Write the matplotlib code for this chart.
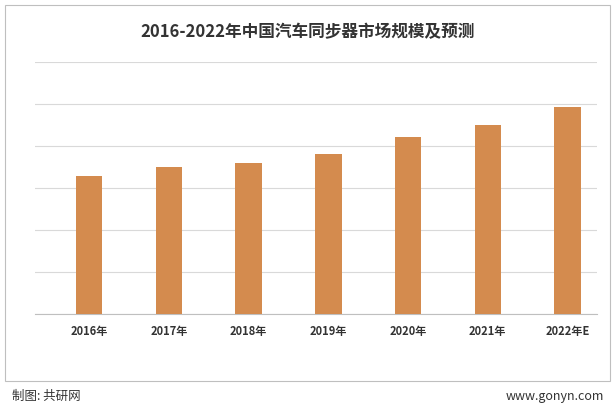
import matplotlib
matplotlib.use("Agg")
import matplotlib.pyplot as plt
from matplotlib.patches import Rectangle

plt.rcParams["font.family"] = "Noto Sans CJK SC"

years = ["2016年", "2017年", "2018年", "2019年", "2020年", "2021年", "2022年E"]
values = [3.29, 3.50, 3.60, 3.81, 4.21, 4.50, 4.93]

W, H = 616, 411
fig = plt.figure(figsize=(W / 100, H / 100), dpi=100)
ax = fig.add_axes([35 / W, 1 - 314 / H, (597 - 35) / W, (314 - 62) / H])

ax.bar(range(len(years)), values, width=0.33, color="#D48B4E", zorder=3)
ax.set_xlim(-0.68, 6.37)
ax.set_ylim(0, 6)
ax.set_yticks(range(0, 7))
ax.set_yticklabels([])
ax.tick_params(axis="y", length=0)
ax.tick_params(axis="x", length=0, pad=8)
ax.set_xticks(range(len(years)))
ax.set_xticklabels(years, fontsize=8, fontweight="bold", color="#333333")
ax.grid(axis="y", color="#d9d9d9", linewidth=0.8, zorder=0)
for s in ["top", "right", "left"]:
    ax.spines[s].set_visible(False)
ax.spines["bottom"].set_color("#bfbfbf")

fig.text(0.5, 1 - 32 / H, "2016-2022年中国汽车同步器市场规模及预测", ha="center", va="center",
         fontsize=12, fontweight="bold", color="#333333")
fig.patches.append(Rectangle((5 / W, 1 - 381 / H), 605 / W, 376 / H, transform=fig.transFigure,
                             fill=False, edgecolor="#bfbfbf", linewidth=0.8))
fig.text(12 / W, 1 - 396 / H, "制图: 共研网", ha="left", va="center", fontsize=9, color="#333333")
fig.text(604 / W, 1 - 396 / H, "www.gonyn.com", ha="right", va="center", fontsize=9, color="#333333")

fig.savefig("out.png", dpi=100)
